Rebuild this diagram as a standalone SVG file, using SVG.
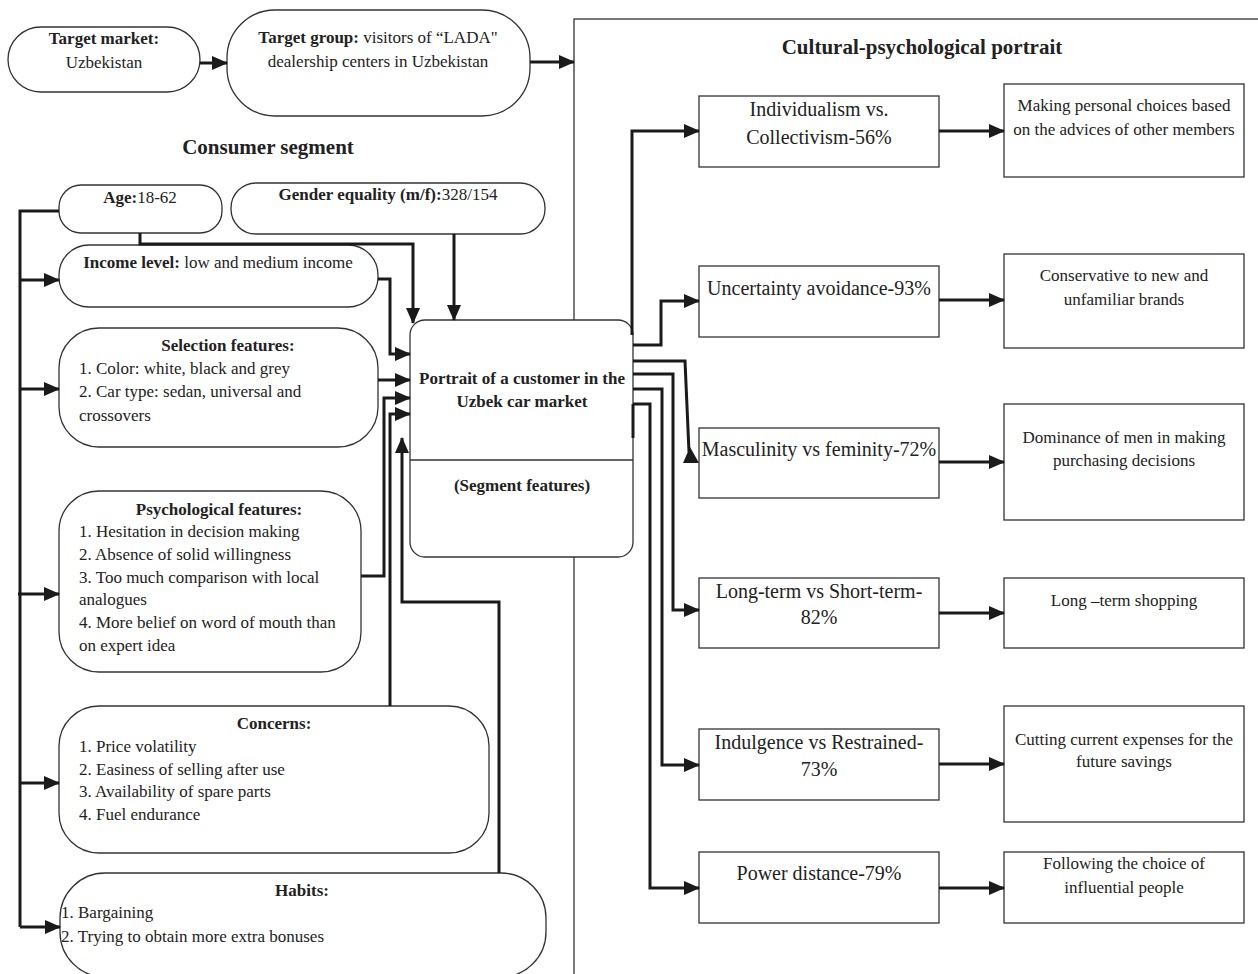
<svg xmlns="http://www.w3.org/2000/svg" width="1258" height="974" viewBox="0 0 1258 974">
<style>
.box{fill:#fff;stroke:#333;stroke-width:1.3}
.t{font-family:"Liberation Serif","Times New Roman",serif;font-size:17px;fill:#222}
.m{text-anchor:middle}
.b{font-weight:bold}
.r{font-size:20px}
.h{font-size:21px;font-weight:bold}
.c{fill:none;stroke:#1a1a1a;stroke-width:3}
.a{marker-end:url(#ah)}
</style>
<defs>
<marker id="ah" markerUnits="userSpaceOnUse" markerWidth="16" markerHeight="14" refX="15" refY="7" orient="auto">
<path d="M0,0 L16,7 L0,14 z" fill="#1a1a1a"/>
</marker>
</defs>
<rect fill="#fff" width="1258" height="974"/>
<g id="panel">
<rect class="box" x="574" y="19" width="700" height="970"/>
<text class="t h m" x="922" y="54">Cultural-psychological portrait</text>
<text class="t h m" x="268" y="154">Consumer segment</text>
</g>
<g id="target-market">
<rect class="box" x="8" y="27" width="192" height="65" rx="33"/>
<text class="t m" x="104" y="44"><tspan class="b">Target market:</tspan></text>
<text class="t m" x="104" y="68">Uzbekistan</text>
</g>
<g id="target-group">
<rect class="box" x="227" y="10" width="303" height="106" rx="48"/>
<text class="t m" x="378" y="43"><tspan class="b">Target group:</tspan> visitors of “LADA"</text>
<text class="t m" x="378" y="67">dealership centers in Uzbekistan</text>
</g>
<g id="age">
<rect class="box" x="59" y="185" width="163" height="48" rx="22"/>
<text class="t m" x="140" y="203"><tspan class="b">Age:</tspan>18-62</text>
</g>
<g id="gender">
<rect class="box" x="231" y="183" width="314" height="51" rx="25"/>
<text class="t m" x="388" y="200"><tspan class="b">Gender equality (m/f):</tspan>328/154</text>
</g>
<g id="income">
<rect class="box" x="59" y="245" width="319" height="62" rx="30"/>
<text class="t m" x="218" y="268"><tspan class="b">Income level:</tspan> low and medium income</text>
</g>
<g id="selection">
<rect class="box" x="59" y="328" width="319" height="119" rx="40"/>
<text class="t b m" x="228" y="351">Selection features:</text>
<text class="t" x="79" y="374">1. Color: white, black and grey</text>
<text class="t" x="79" y="397">2. Car type: sedan, universal and</text>
<text class="t" x="79" y="421">crossovers</text>
</g>
<g id="psychological">
<rect class="box" x="59" y="491" width="302" height="181" rx="40"/>
<text class="t b m" x="219" y="515">Psychological features:</text>
<text class="t" x="79" y="537">1. Hesitation in decision making</text>
<text class="t" x="79" y="560">2. Absence of solid willingness</text>
<text class="t" x="79" y="583">3. Too much comparison with local</text>
<text class="t" x="79" y="605">analogues</text>
<text class="t" x="79" y="628">4. More belief on word of mouth than</text>
<text class="t" x="79" y="651">on expert idea</text>
</g>
<g id="concerns">
<rect class="box" x="59" y="706" width="430" height="147" rx="40"/>
<text class="t b m" x="274" y="729">Concerns:</text>
<text class="t" x="79" y="752">1. Price volatility</text>
<text class="t" x="79" y="775">2. Easiness of selling after use</text>
<text class="t" x="79" y="797">3. Availability of spare parts</text>
<text class="t" x="79" y="820">4. Fuel endurance</text>
</g>
<g id="habits">
<rect class="box" x="60" y="873" width="486" height="104" rx="45"/>
<text class="t b m" x="302" y="896">Habits:</text>
<text class="t" x="61" y="918">1. Bargaining</text>
<text class="t" x="61" y="942">2. Trying to obtain more extra bonuses</text>
</g>
<g id="portrait">
<rect class="box" x="410" y="320" width="223" height="237" rx="15"/>
<line x1="410" y1="460" x2="633" y2="460" stroke="#333" stroke-width="1.3"/>
<text class="t b m" x="522" y="384">Portrait of a customer in the</text>
<text class="t b m" x="522" y="407">Uzbek car market</text>
<text class="t b m" x="522" y="491">(Segment features)</text>
</g>
<g id="individualism">
<rect class="box" x="699" y="96" width="240" height="71"/>
<text class="t r m" x="819" y="116">Individualism vs.</text>
<text class="t r m" x="819" y="144">Collectivism-56%</text>
</g>
<g id="making">
<rect class="box" x="1004" y="84" width="240" height="93"/>
<text class="t m" x="1124" y="111">Making personal choices based</text>
<text class="t m" x="1124" y="135">on the advices of other members</text>
</g>
<g id="uncertainty">
<rect class="box" x="699" y="266" width="240" height="71"/>
<text class="t r m" x="819" y="295">Uncertainty avoidance-93%</text>
</g>
<g id="conservative">
<rect class="box" x="1004" y="254" width="240" height="94"/>
<text class="t m" x="1124" y="281">Conservative to new and</text>
<text class="t m" x="1124" y="305">unfamiliar brands</text>
</g>
<g id="masculinity">
<rect class="box" x="699" y="428" width="240" height="70"/>
<text class="t r m" x="819" y="456">Masculinity vs feminity-72%</text>
</g>
<g id="dominance">
<rect class="box" x="1004" y="404" width="240" height="116"/>
<text class="t m" x="1124" y="443">Dominance of men in making</text>
<text class="t m" x="1124" y="466">purchasing decisions</text>
</g>
<g id="longterm">
<rect class="box" x="699" y="578" width="240" height="70"/>
<text class="t r m" x="819" y="598">Long-term vs Short-term-</text>
<text class="t r m" x="819" y="624">82%</text>
</g>
<g id="longterm-shopping">
<rect class="box" x="1004" y="578" width="240" height="70"/>
<text class="t m" x="1124" y="606">Long –term shopping</text>
</g>
<g id="indulgence">
<rect class="box" x="699" y="729" width="240" height="71"/>
<text class="t r m" x="819" y="749">Indulgence vs Restrained-</text>
<text class="t r m" x="819" y="776">73%</text>
</g>
<g id="cutting">
<rect class="box" x="1004" y="706" width="240" height="116"/>
<text class="t m" x="1124" y="745">Cutting current expenses for the</text>
<text class="t m" x="1124" y="767">future savings</text>
</g>
<g id="power">
<rect class="box" x="699" y="852" width="240" height="71"/>
<text class="t r m" x="819" y="880">Power distance-79%</text>
</g>
<g id="following">
<rect class="box" x="1004" y="852" width="240" height="71"/>
<text class="t m" x="1124" y="869">Following the choice of</text>
<text class="t m" x="1124" y="893">influential people</text>
</g>
<g id="connectors">
<path class="c a" d="M200,63 H227"/>
<path class="c a" d="M530,62 H574"/>
<path class="c" d="M59,211 H20 V927"/>
<path class="c a" d="M20,280 H59"/>
<path class="c a" d="M20,389 H59"/>
<path class="c a" d="M18,594 H59"/>
<path class="c a" d="M20,783 H59"/>
<path class="c a" d="M20,927 H60"/>
<path class="c a" d="M140,233 V244 H413 V323"/>
<path class="c a" d="M454,234 V320"/>
<path class="c a" d="M378,279 H390 V354 H410"/>
<path class="c a" d="M378,380 H410"/>
<path class="c a" d="M361,576 H384 V398 H410"/>
<path class="c a" d="M390,706 V414 H410"/>
<path class="c a" d="M499,873 V602 H402 V438"/>
<path class="c a" d="M632,335 V131 H699"/>
<path class="c a" d="M633,345 H661 V301 H699"/>
<path class="c" d="M633,361 H685 L689,452"/>
<polygon points="683,463 699,463 690,447" fill="#1a1a1a"/>
<path class="c a" d="M633,374 H673 V610 H699"/>
<path class="c a" d="M633,389 H662 V765 H699"/>
<path class="c a" d="M633,404 H650 V888 H699"/>
<path class="c" d="M633,404 V438"/>
<path class="c a" d="M939,131 H1004"/>
<path class="c a" d="M939,300 H1004"/>
<path class="c a" d="M939,462 H1004"/>
<path class="c a" d="M939,613 H1004"/>
<path class="c a" d="M939,764 H1004"/>
<path class="c a" d="M939,888 H1004"/>
</g>
</svg>
